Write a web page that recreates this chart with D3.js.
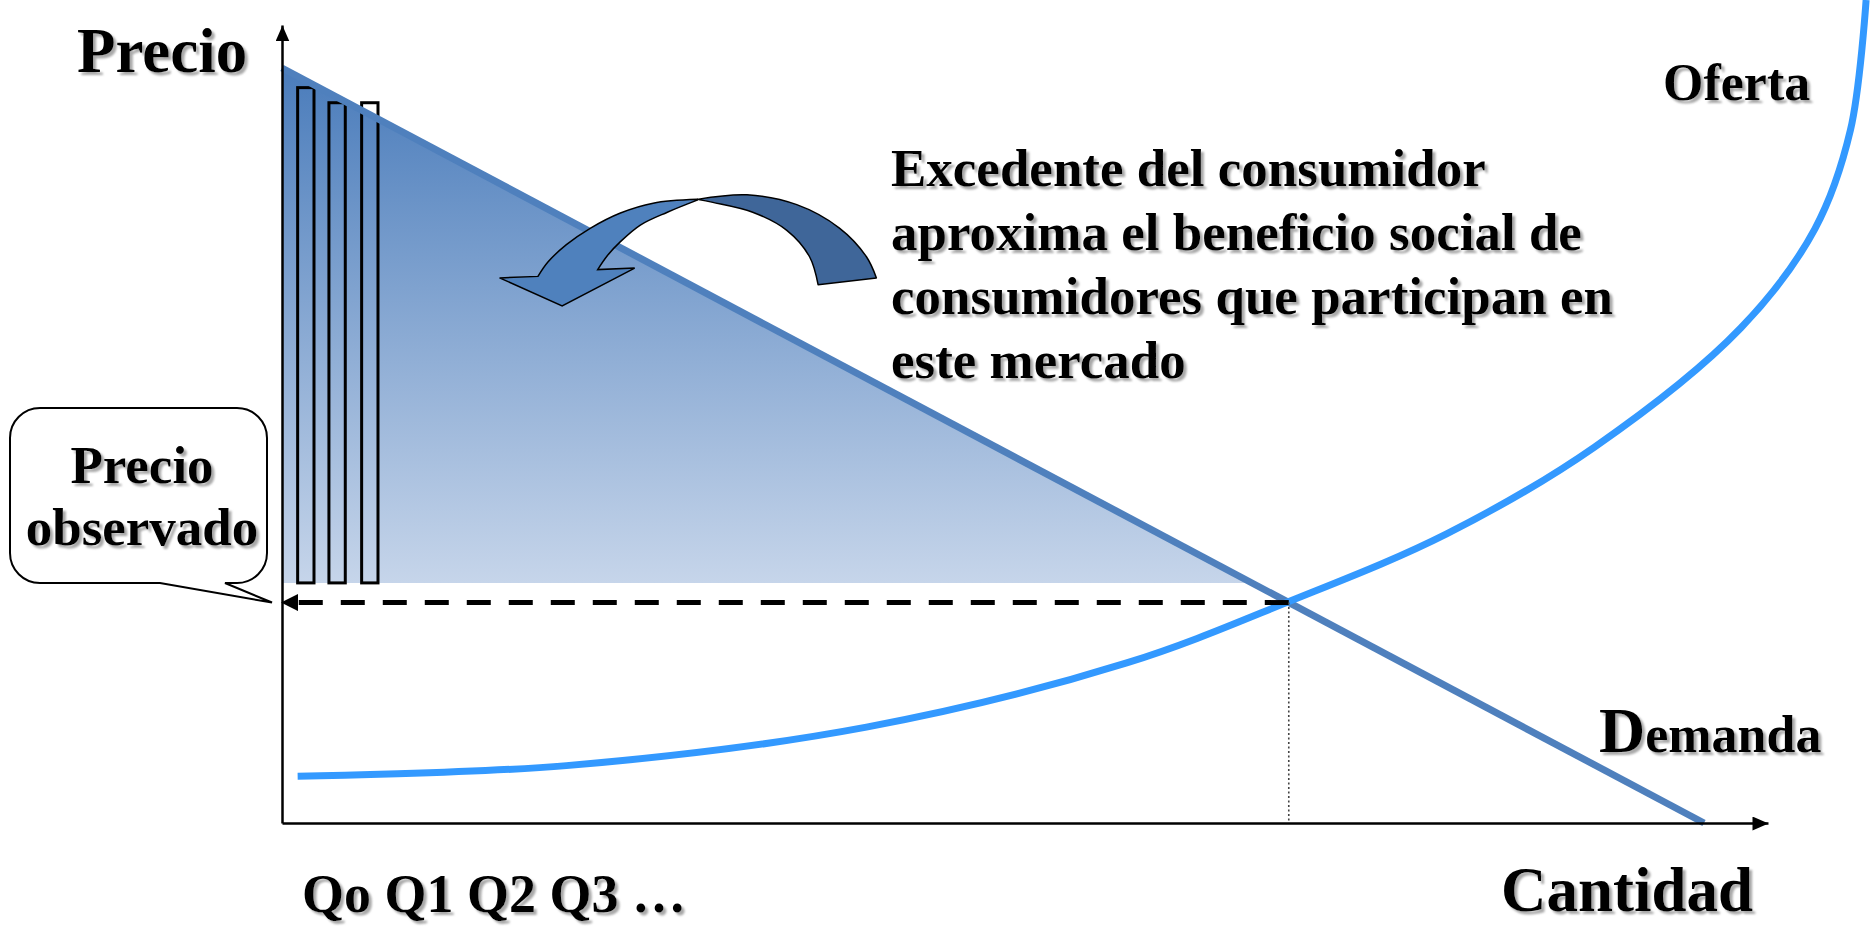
<!DOCTYPE html>
<html lang="es">
<head>
<meta charset="utf-8">
<title>Excedente del consumidor</title>
<script src="https://cdn.jsdelivr.net/npm/d3@7/dist/d3.min.js"></script>
<style>
  html, body { margin: 0; padding: 0; background: #ffffff; }
  svg { display: block; }
  .lbl { font-family: "Liberation Serif", "Times New Roman", serif; font-weight: bold; fill: #000; }
</style>
</head>
<body>
<svg id="chart" width="1876" height="926"></svg>
<script>
// ---- data (quantity, price units) ----
const demandQ = [0, 100];
const demandP = [100, 0];

const supplyQ = [1.1, 20, 41.1, 59.4, 70.9, 81.9, 92.3, 102.6, 107.8, 110.3, 111.4];
const supplyP = [6.2, 7.6, 12.7, 21.2, 29.4, 38.3, 49.8, 65.6, 78.7, 91.8, 109.0];

const eqQ = 70.8;          // equilibrium quantity
const eqP = 29.2;          // observed (equilibrium) price
const surplusFloor = 31.8; // lower edge of the shaded surplus

// individual consumers' willingness to pay (Q0, Q1, Q2)
const barStart = [1.1, 3.3, 5.6];
const barTop = [97.4, 95.4, 95.4];
const barWidth = 1.15;

// curved annotation arrow outline, in quantity/price units
const arrowBackOuter = [[29.2, 82.6], [32.7, 83.2], [36.2, 81.9], [39.2, 78.8], [41.1, 75.0], [41.8, 72.2]];
const arrowBackInner = [[37.7, 71.3], [37.1, 75.0], [35.5, 78.5], [33.1, 80.9], [30.3, 82.2], [29.2, 82.6]];
const arrowFrontOuter = [[29.2, 82.6], [26.1, 82.1], [23.8, 80.8], [21.7, 78.8], [20.0, 76.6], [18.7, 74.3], [18.0, 72.4]];
const arrowHead = [[18.0, 72.4], [15.3, 72.2], [19.7, 68.5], [24.8, 73.5], [22.2, 73.3]];
const arrowFrontInner = [[22.2, 73.3], [22.9, 75.2], [23.8, 77.0], [25.2, 79.2], [27.1, 80.9], [29.2, 82.5]];

// text
const yTitle = "Precio";
const xTitle = "Cantidad";
const qLabels = "Qo Q1 Q2 Q3 \u2026";
const supplyLabel = "Oferta";
const demandLabel = ["D", "emanda"];
const calloutLines = ["Precio", "observado"];
const noteLines = [
  "Excedente del consumidor",
  "aproxima el beneficio social de",
  "consumidores que participan en",
  "este mercado"
];

// ---- scales ----
const x = d3.scaleLinear().domain([0, 100]).range([282, 1704]);
const y = d3.scaleLinear().domain([0, 100]).range([823, 68]);
const xAxisEnd = 104.5;
const yAxisEnd = 105.7;

const svg = d3.select("#chart");
const defs = svg.append("defs");

// gradient for the surplus area
const grad = defs.append("linearGradient")
  .attr("id", "surplusGrad")
  .attr("gradientUnits", "userSpaceOnUse")
  .attr("x1", 0).attr("x2", 0)
  .attr("y1", y(100)).attr("y2", y(surplusFloor));
grad.append("stop").attr("offset", "0%").attr("stop-color", "#4a7cbb");
grad.append("stop").attr("offset", "100%").attr("stop-color", "#c6d5ea");

// text shadow
const shadow = defs.append("filter").attr("id", "txtShadow")
  .attr("x", "-5%").attr("y", "-10%").attr("width", "115%").attr("height", "130%");
shadow.append("feDropShadow")
  .attr("dx", 3).attr("dy", 3).attr("stdDeviation", 0.8)
  .attr("flood-color", "#8c8c8c").attr("flood-opacity", 0.75);

// arrow heads
defs.append("marker").attr("id", "axisArrow")
  .attr("markerUnits", "userSpaceOnUse")
  .attr("viewBox", "0 0 16 14").attr("refX", 16).attr("refY", 7)
  .attr("markerWidth", 16).attr("markerHeight", 14).attr("orient", "auto")
  .append("path").attr("d", "M0,0L16,7L0,14Z").attr("fill", "#000");
defs.append("marker").attr("id", "dashArrow")
  .attr("markerUnits", "userSpaceOnUse")
  .attr("viewBox", "0 0 17 17").attr("refX", 15).attr("refY", 8.5)
  .attr("markerWidth", 17).attr("markerHeight", 17).attr("orient", "auto")
  .append("path").attr("d", "M0,0L17,8.5L0,17Z").attr("fill", "#000");

// ---- consumer surplus triangle ----
const surplusPoly = [[0, 100], [100 - surplusFloor, surplusFloor], [0, surplusFloor]];
svg.append("path")
  .attr("d", d3.line().x(d => x(d[0])).y(d => y(d[1]))(surplusPoly) + "Z")
  .attr("fill", "url(#surplusGrad)");

// ---- willingness-to-pay bars ----
svg.append("g").selectAll("rect")
  .data(barStart.map((q, i) => ({ q, top: barTop[i] })))
  .join("rect")
  .attr("x", d => x(d.q))
  .attr("y", d => y(d.top))
  .attr("width", d => x(d.q + barWidth) - x(d.q))
  .attr("height", d => y(surplusFloor) - y(d.top))
  .attr("fill", "none")
  .attr("stroke", "#000")
  .attr("stroke-width", 3);

// ---- demand ----
svg.append("path")
  .datum(demandQ.map((q, i) => [q, demandP[i]]))
  .attr("d", d3.line().x(d => x(d[0])).y(d => y(d[1])))
  .attr("fill", "none")
  .attr("stroke", "#4f80bd")
  .attr("stroke-width", 7);

// ---- supply ----
svg.append("path")
  .datum(supplyQ.map((q, i) => [q, supplyP[i]]))
  .attr("d", d3.line().x(d => x(d[0])).y(d => y(d[1])).curve(d3.curveCatmullRom.alpha(0.5)))
  .attr("fill", "none")
  .attr("stroke", "#3399ff")
  .attr("stroke-width", 7);

// ---- observed price guide ----
svg.append("path")
  .attr("d", d3.line()([[x(eqQ), y(eqP)], [x(0) + 1, y(eqP)]]))
  .attr("stroke", "#000")
  .attr("stroke-width", 5)
  .attr("stroke-dasharray", "24 18")
  .attr("marker-end", "url(#dashArrow)");

svg.append("path")
  .attr("d", d3.line()([[x(eqQ), y(eqP)], [x(eqQ), y(0)]]))
  .attr("stroke", "#444")
  .attr("stroke-width", 1.6)
  .attr("stroke-dasharray", "2 2.5");

// ---- axes ----
const xAxisScale = d3.scaleLinear().domain([0, xAxisEnd]).range([x(0), x(xAxisEnd)]);
const yAxisScale = d3.scaleLinear().domain([0, yAxisEnd]).range([y(0), y(yAxisEnd)]);

const gx = svg.append("g").attr("transform", `translate(0,${y(0)})`)
  .call(d3.axisBottom(xAxisScale).tickValues([]).tickSizeOuter(0));
const gy = svg.append("g").attr("transform", `translate(${x(0)},0)`)
  .call(d3.axisLeft(yAxisScale).tickValues([]).tickSizeOuter(0));
[gx, gy].forEach(g => g.select(".domain")
  .attr("stroke", "#000").attr("stroke-width", 2.5)
  .attr("marker-end", "url(#axisArrow)"));

// ---- curved arrow ----
const smooth = d3.line().x(d => x(d[0])).y(d => y(d[1])).curve(d3.curveCatmullRom);
const straight = d3.line().x(d => x(d[0])).y(d => y(d[1]));
const joinPaths = parts => parts.map((p, i) => i === 0 ? p : p.replace(/^M/, "L")).join("") + "Z";

svg.append("path")
  .attr("d", joinPaths([smooth(arrowBackOuter), smooth(arrowBackInner)]))
  .attr("fill", "#3f6699")
  .attr("stroke", "#000")
  .attr("stroke-width", 1.5)
  .attr("stroke-linejoin", "round");
svg.append("path")
  .attr("d", joinPaths([smooth(arrowFrontOuter), straight(arrowHead), smooth(arrowFrontInner)]))
  .attr("fill", "#4f81bd")
  .attr("stroke", "#000")
  .attr("stroke-width", 1.5)
  .attr("stroke-linejoin", "miter");

// ---- callout for the observed price ----
const box = { left: 10, top: 408, right: 267, bottom: 583, r: 30 };
const tip = [x(0) - 10, y(eqP)];
const cp = d3.path();
cp.moveTo(box.left + box.r, box.top);
cp.lineTo(box.right - box.r, box.top);
cp.arcTo(box.right, box.top, box.right, box.top + box.r, box.r);
cp.lineTo(box.right, box.bottom - box.r);
cp.arcTo(box.right, box.bottom, box.right - box.r, box.bottom, box.r);
cp.lineTo(225, box.bottom);
cp.lineTo(tip[0], tip[1]);
cp.lineTo(160, box.bottom);
cp.lineTo(box.left + box.r, box.bottom);
cp.arcTo(box.left, box.bottom, box.left, box.bottom - box.r, box.r);
cp.lineTo(box.left, box.top + box.r);
cp.arcTo(box.left, box.top, box.left + box.r, box.top, box.r);
cp.closePath();
svg.append("path").attr("d", cp.toString())
  .attr("fill", "#fff").attr("stroke", "#000").attr("stroke-width", 2);

// ---- labels ----
const labels = svg.append("g").attr("filter", "url(#txtShadow)");

labels.append("text").attr("class", "lbl")
  .attr("x", 77).attr("y", 72).attr("font-size", 63).text(yTitle);
labels.append("text").attr("class", "lbl")
  .attr("x", 1501).attr("y", 911).attr("font-size", 63).text(xTitle);
labels.append("text").attr("class", "lbl")
  .attr("x", 302).attr("y", 912).attr("font-size", 54).text(qLabels);
labels.append("text").attr("class", "lbl")
  .attr("x", 1663).attr("y", 100).attr("font-size", 52).text(supplyLabel);

const dl = labels.append("text").attr("class", "lbl").attr("x", 1599).attr("y", 752);
dl.append("tspan").attr("font-size", 64).text(demandLabel[0]);
dl.append("tspan").attr("font-size", 52).text(demandLabel[1]);

labels.selectAll("text.callout")
  .data(calloutLines)
  .join("text")
  .attr("class", "lbl callout")
  .attr("x", 142)
  .attr("y", (d, i) => 483 + i * 62)
  .attr("text-anchor", "middle")
  .attr("font-size", 53)
  .text(d => d);

labels.selectAll("text.note")
  .data(noteLines)
  .join("text")
  .attr("class", "lbl note")
  .attr("x", 891)
  .attr("y", (d, i) => 186 + i * 64)
  .attr("font-size", 53)
  .text(d => d);
</script>
</body>
</html>
